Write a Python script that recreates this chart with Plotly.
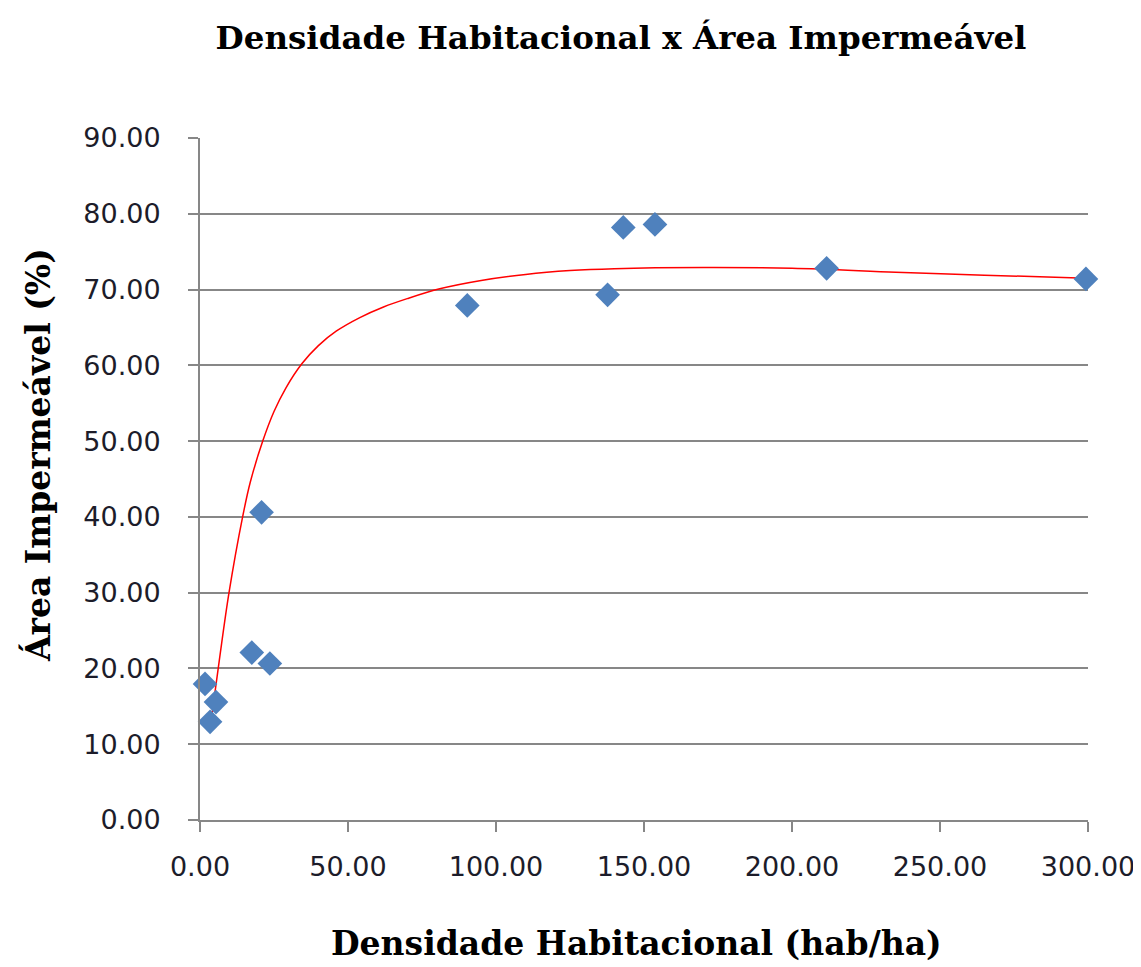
import plotly.graph_objects as go

densidade = [1.7, 3.4, 5.4, 17.5, 20.8, 23.6, 90.3, 137.7, 143.0, 153.7, 211.7, 299.3]
area_imp = [17.96, 12.95, 15.56, 22.1, 40.6, 20.65, 67.9, 69.3, 78.2, 78.6, 72.8, 71.4]

# Trend line samples
trend_x = [3.4, 6.5, 9.8, 14.4, 17.0, 21.2, 25.0, 29.0, 34.4, 40.0, 46.0, 54.0, 62.0,
           70.0, 81.0, 95.0, 110.0, 125.0, 140.0, 170.0, 200.0, 235.0, 265.0, 299.5]
trend_y = [12.1, 21.0, 30.0, 40.0, 44.6, 50.0, 53.9, 57.0, 60.2, 62.6, 64.5, 66.3, 67.7,
           68.8, 70.1, 71.2, 72.0, 72.5, 72.75, 72.9, 72.8, 72.3, 71.9, 71.5]

x_ticks = [0, 50, 100, 150, 200, 250, 300]
y_ticks = [0, 10, 20, 30, 40, 50, 60, 70, 80, 90]

title_text = "Densidade Habitacional x Área Impermeável"
x_title = "Densidade Habitacional (hab/ha)"
y_title = "Área Impermeável (%)"

# page body has an 8px margin: work in screenshot pixels and shift by OFF
OFF = 8
W, H = 1141 - OFF, 967 - OFF
L, R, T, B = 200 - OFF, 1088 - OFF, 138 - OFF, 820 - OFF
serif = "DejaVu Serif"
sans = "DejaVu Sans"
grid_col = "#878787"

fig = go.Figure()
fig.add_trace(go.Scatter(
    x=trend_x, y=trend_y, mode="lines",
    line=dict(color="#FF0000", width=1.5, shape="spline", smoothing=1.0),
    showlegend=False,
))
fig.add_trace(go.Scatter(
    x=densidade, y=area_imp, mode="markers",
    marker=dict(symbol="diamond", size=19, color="#4F81BD", line=dict(width=0)),
    showlegend=False, cliponaxis=False,
))

fig.update_layout(
    width=W, height=H,
    margin=dict(l=L, r=W - R, t=T, b=H - B, autoexpand=False),
    paper_bgcolor="white", plot_bgcolor="white",
    title=dict(text="<b>%s</b>" % title_text, font=dict(family=serif, size=32.5, color="#000"),
               xref="container", yref="container", x=(621 - OFF) / W, y=1 - (38 - OFF) / H,
               xanchor="center", yanchor="middle"),
    xaxis=dict(range=[0, 300], tickvals=x_ticks, tickformat=".2f",
               showgrid=False, zeroline=False, automargin=False,
               showline=True, linecolor=grid_col, linewidth=2,
               ticks="outside", ticklen=10, tickwidth=2, tickcolor=grid_col,
               tickfont=dict(family=sans, size=27, color="#1c1c2a"),
               ticklabelstandoff=12, fixedrange=True),
    yaxis=dict(range=[0, 90], tickvals=y_ticks, tickformat=".2f",
               showgrid=True, gridcolor=grid_col, gridwidth=2, zeroline=False,
               automargin=False,
               showline=True, linecolor=grid_col, linewidth=2,
               ticks="outside", ticklen=10, tickwidth=2, tickcolor=grid_col,
               tickfont=dict(family=sans, size=27, color="#1c1c2a"),
               ticklabelstandoff=22, fixedrange=True),
    annotations=[
        dict(text="<b>%s</b>" % x_title, xref="paper", yref="paper",
             x=(636 - OFF - L) / (R - L), y=-(943 - OFF - B) / (B - T),
             xanchor="center", yanchor="middle", showarrow=False,
             font=dict(family=serif, size=33, color="#000")),
        dict(text="<b>%s</b>" % y_title, xref="paper", yref="paper",
             x=-(L - (38 - OFF)) / (R - L), y=(B - (455 - OFF)) / (B - T),
             xanchor="center", yanchor="middle", showarrow=False, textangle=-90,
             font=dict(family=serif, size=33, color="#000")),
    ],
)

fig.write_html("out.html")
